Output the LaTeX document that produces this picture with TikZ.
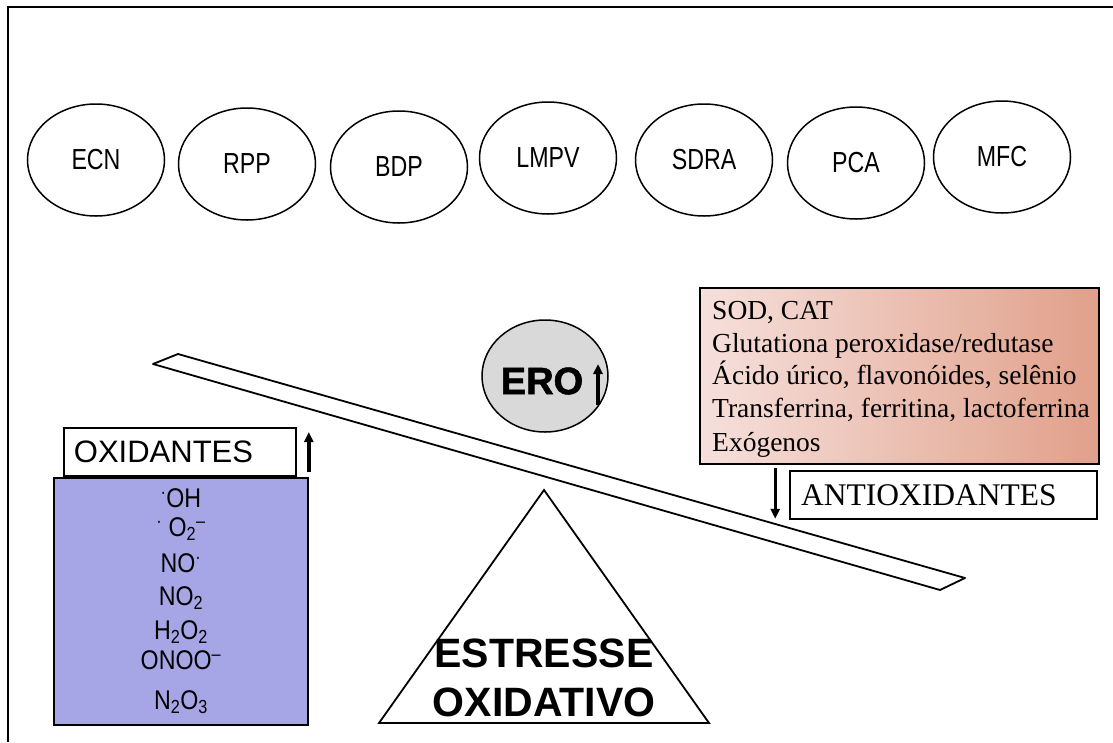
\documentclass[tikz,border=0pt]{standalone}
\usepackage{fontspec}
\setmainfont{Liberation Sans}
\newfontfamily\serifroman{Liberation Serif}
\newfontfamily\heavyfont[BoldFeatures={FakeBold=1.6}]{Liberation Sans}
\usetikzlibrary{calc,positioning,arrows.meta,shapes.geometric}
\definecolor{oxiblue}{RGB}{166,166,230}
\definecolor{antipink}{RGB}{246,224,220}
\definecolor{antisalmon}{RGB}{225,160,138}
\definecolor{erogray}{RGB}{217,217,217}
\newcommand{\narrow}[1]{\scalebox{0.8}[1]{#1}}

\begin{document}
\begin{tikzpicture}[
  x=1pt,y=-1pt,
  disease/.style={ellipse,draw=black,line width=1.5pt,minimum width=137pt,minimum height=112pt,inner sep=0pt,font=\fontsize{29}{32}\selectfont},
  labelbox/.style={rectangle,draw=black,line width=1.8pt,fill=white,inner ysep=0pt,align=left},
  listline/.style={inner sep=0pt,font=\fontsize{27}{30}\selectfont},
  antiline/.style={inner sep=0pt,anchor=base west,font=\serifroman\fontsize{27.5}{33}\selectfont},
  level/.style={-{Triangle[length=10pt,width=9pt]},line width=3.4pt},
  ]

  \useasboundingbox (0,0) rectangle (1113,742);

  %frame
  \draw[line width=2pt] (8,742) -- (8,7) -- (1113,7);

  %diseases
  \foreach \name/\x/\y in {ECN/96/160,RPP/247/164,BDP/399/167,LMPV/548/158,SDRA/704/160,PCA/856/163,MFC/1002/157}
  {
    \node (\name) [disease] at (\x,\y) {\narrow{\name}};
  }

  %balance
  \draw[line width=1.8pt,line join=round] (153,364) -- (178,354) -- (965,578) -- (940,590) -- cycle;
  \coordinate (apex) at (544,490);
  \draw[line width=1.8pt] (apex) -- (709,723) -- (379,723) -- cycle;
  \node (stress_1) [font=\bfseries\fontsize{41}{48}\selectfont,inner sep=0pt] at ($(apex)+(0,163)$) {ESTRESSE};
  \node (stress_2) [font=\bfseries\fontsize{41}{48}\selectfont,inner sep=0pt] at ($(apex)+(0,212)$) {OXIDATIVO};

  %ERO
  \node (ero) [ellipse,draw=black,line width=1.5pt,fill=erogray,minimum width=126pt,minimum height=112pt] at (545,376) {};
  \node (ero_text) [font=\heavyfont\bfseries\fontsize{38}{40}\selectfont,inner sep=0pt] at ($(ero.center)+(-3,5)$) {ERO};
  \draw[level] ($(ero.center)+(53,29)$) -- ($(ero.center)+(53,-12)$);

  %oxidants
  \node (oxi) [labelbox,text width=212pt,inner xsep=10pt,minimum height=48pt,anchor=north west,font=\fontsize{31}{36}\selectfont] at (63,427) {OXIDANTES};
  \draw[level] ($(oxi.south east)+(12,-5)$) -- ($(oxi.north east)+(12,5)$);
  \node (oxilist) [rectangle,draw=black,line width=1.8pt,fill=oxiblue,minimum width=254pt,minimum height=247pt,anchor=north west] at (53,477) {};
  \foreach \i/\y/\txt in {1/21/{\textsuperscript{·}OH},
                          2/52/{\textsuperscript{·} O\textsubscript{2}\textsuperscript{--}},
                          3/86/{NO\textsuperscript{·}},
                          4/121/{NO\textsubscript{2}},
                          5/155/{H\textsubscript{2}O\textsubscript{2}},
                          6/183/{ONOO\textsuperscript{--}},
                          7/225/{N\textsubscript{2}O\textsubscript{3}}}
  {
    \node (oxi_\i) [listline] at ($(oxilist.north)+(0,\y)$) {\scalebox{0.86}[1]{\txt}};
  }

  %antioxidants
  \node (antilist) [rectangle,draw=black,line width=1.8pt,left color=antipink,right color=antisalmon,minimum width=399pt,minimum height=176pt,anchor=north west] at (699,287) {};
  \foreach \i/\y/\txt in {1/32/{SOD, CAT},
                          2/65/{Glutationa peroxidase/redutase},
                          3/97/{Ácido úrico, flavonóides, selênio},
                          4/130/{Transferrina, ferritina, lactoferrina},
                          5/164/{Exógenos}}
  {
    \node (anti_\i) [antiline] at ($(antilist.north west)+(13,\y)$) {\txt};
  }
  \node (antilabel) [labelbox,text width=285pt,inner xsep=11pt,minimum height=48pt,anchor=north east,font=\serifroman\fontsize{31.5}{36}\selectfont] at (1098,470) {ANTIOXIDANTES};
  \draw[level] ($(antilabel.north west)+(-14,-2)$) -- ($(antilabel.south west)+(-14,-1)$);

\end{tikzpicture}
\end{document}
